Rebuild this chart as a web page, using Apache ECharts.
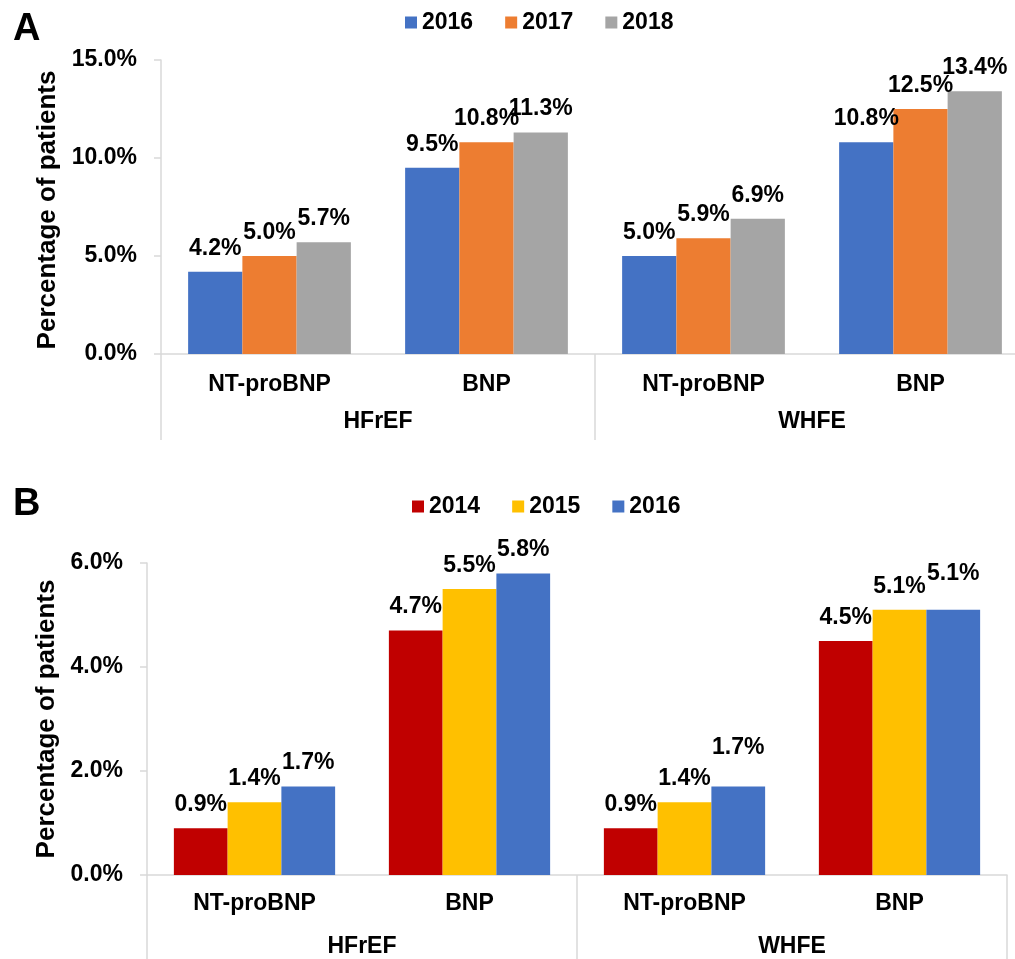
<!DOCTYPE html>
<html>
<head>
<meta charset="utf-8">
<title>Natriuretic peptide testing</title>
<script src="https://cdn.jsdelivr.net/npm/echarts@6/dist/echarts.min.js"></script>
<style>
  html, body { margin: 0; padding: 0; background: #fff; }
  #chart { width: 1015px; height: 959px; }
</style>
</head>
<body>
<div id="chart"></div>
<script>
// Test categories and patient groups shared by both panels
const tests = ['NT-proBNP', 'BNP', 'NT-proBNP', 'BNP'];
const groups = ['HFrEF', 'WHFE'];

// Panel A: 2016-2018 (% of patients)
const yearsA = ['2016', '2017', '2018'];
const a2016 = [4.2, 9.5, 5.0, 10.8];
const a2017 = [5.0, 10.8, 5.9, 12.5];
const a2018 = [5.7, 11.3, 6.9, 13.4];
const ticksA = { min: 0, max: 15, step: 5 };

// Panel B: 2014-2016 (% of patients)
const yearsB = ['2014', '2015', '2016'];
const b2014 = [0.9, 4.7, 0.9, 4.5];
const b2015 = [1.4, 5.5, 1.4, 5.1];
const b2016 = [1.7, 5.8, 1.7, 5.1];
const ticksB = { min: 0, max: 6, step: 2 };

const FONT = "'Liberation Sans', Arial, sans-serif";
const GRAY = '#d9d9d9';
const BLACK = '#000';

const colorsA = ['#4472C4', '#ED7D31', '#A5A5A5'];
const colorsB = ['#C00000', '#FFC000', '#4472C4'];

// a few value labels are lifted clear of their neighbours
const labelLift = { 'B-2016': { 2: 15, 3: 13 } };

function pct(v) { return v.toFixed(1) + '%'; }

function barSeries(panel, name, values, color, gi) {
  const lift = (labelLift[panel + '-' + name]) || {};
  return {
    type: 'bar',
    name: name,
    xAxisIndex: gi * 2,
    yAxisIndex: gi,
    barGap: '0%',
    barCategoryGap: '25%',
    itemStyle: { color: color },
    label: {
      show: true,
      position: 'top',
      distance: 12,
      color: BLACK,
      fontFamily: FONT,
      fontWeight: 'bold',
      fontSize: 23,
      formatter: p => pct(p.value)
    },
    data: values.map((v, i) => lift[i]
      ? { value: v, label: { offset: [0, -lift[i]] } }
      : v)
  };
}

function subAxis(gi, margin) {
  return {
    type: 'category', gridIndex: gi, data: tests, position: 'bottom',
    axisLine: { show: true, lineStyle: { color: GRAY, width: 1.5 } },
    axisTick: { show: false },
    axisLabel: { margin: margin, color: BLACK, fontFamily: FONT, fontWeight: 'bold', fontSize: 23 }
  };
}

function groupAxis(gi, margin, tickLen) {
  return {
    type: 'category', gridIndex: gi, data: groups, position: 'bottom',
    axisLine: { show: false },
    axisTick: { show: true, length: tickLen, lineStyle: { color: GRAY, width: 1.5 } },
    axisLabel: { margin: margin, color: BLACK, fontFamily: FONT, fontWeight: 'bold', fontSize: 23 }
  };
}

function valueAxis(gi, t, gap, pad) {
  return {
    type: 'value', gridIndex: gi, min: t.min, max: t.max, interval: t.step,
    name: 'Percentage of patients', nameLocation: 'middle', nameGap: gap,
    nameTextStyle: { color: BLACK, fontFamily: FONT, fontWeight: 'bold', fontSize: 26, padding: pad },
    axisLine: { show: true, lineStyle: { color: GRAY, width: 1.5 } },
    axisTick: { show: true, length: 7, lineStyle: { color: GRAY, width: 1.5 } },
    splitLine: { show: false },
    axisLabel: { margin: 24, color: BLACK, fontFamily: FONT, fontWeight: 'bold', fontSize: 23, formatter: v => pct(v) }
  };
}

const legendText = { color: BLACK, fontFamily: FONT, fontWeight: 'bold', fontSize: 23 };

const option = {
  animation: false,
  backgroundColor: '#fff',
  title: [
    { text: 'A', left: 8, top: 6, textStyle: { fontFamily: FONT, fontWeight: 'bold', fontSize: 38, color: BLACK } },
    { text: 'B', left: 8, top: 481, textStyle: { fontFamily: FONT, fontWeight: 'bold', fontSize: 38, color: BLACK } }
  ],
  legend: [
    { data: yearsA, left: 400, top: 6, itemWidth: 12, itemHeight: 12, itemGap: 32, icon: 'rect', textStyle: legendText },
    { data: yearsB, left: 407, top: 490, itemWidth: 12, itemHeight: 12, itemGap: 32, icon: 'rect', textStyle: legendText }
  ],
  grid: [
    { left: 161, top: 60, width: 868, height: 294, outerBoundsMode: 'none' },
    { left: 147, top: 563, width: 860, height: 312, outerBoundsMode: 'none' }
  ],
  xAxis: [
    subAxis(0, 19), groupAxis(0, 56, 86),
    subAxis(1, 17), groupAxis(1, 60, 90)
  ],
  yAxis: [
    valueAxis(0, ticksA, 98, [0, 6, 0, 0]),
    valueAxis(1, ticksB, 84, [0, 0, 0, 0])
  ],
  series: [
    barSeries('A', yearsA[0], a2016, colorsA[0], 0),
    barSeries('A', yearsA[1], a2017, colorsA[1], 0),
    barSeries('A', yearsA[2], a2018, colorsA[2], 0),
    barSeries('B', yearsB[0], b2014, colorsB[0], 1),
    barSeries('B', yearsB[1], b2015, colorsB[1], 1),
    barSeries('B', yearsB[2], b2016, colorsB[2], 1)
  ]
};

const chart = echarts.init(document.getElementById('chart'), null, { renderer: 'canvas' });
chart.setOption(option);
</script>
</body>
</html>
